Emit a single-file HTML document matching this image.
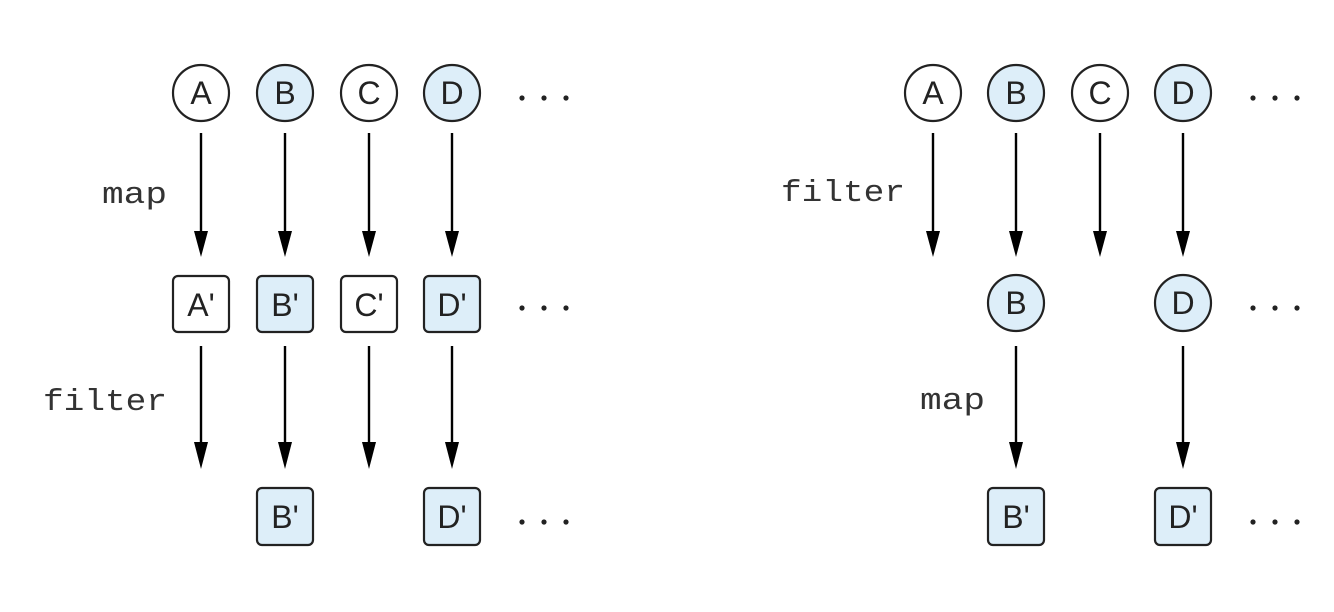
<!DOCTYPE html>
<html><head><meta charset="utf-8"><style>html,body{margin:0;padding:0;background:#fff}svg{display:block}</style></head>
<body>
<svg width="1334" height="612" viewBox="0 0 1334 612" xmlns="http://www.w3.org/2000/svg">
<defs>
<g id="dots"><circle cx="0" cy="0" r="2.6" fill="#222"/><circle cx="22" cy="0" r="2.6" fill="#222"/><circle cx="44" cy="0" r="2.6" fill="#222"/></g>
</defs>
<g stroke="#222" stroke-width="2.2" fill="#222">
<circle cx="201" cy="93" r="28" fill="#fff"/>
<circle cx="285" cy="93" r="28" fill="#ddeef9"/>
<circle cx="369" cy="93" r="28" fill="#fff"/>
<circle cx="452" cy="93" r="28" fill="#ddeef9"/>
<rect x="173" y="276" width="56" height="56" rx="5" fill="#fff"/>
<rect x="257" y="276" width="56" height="56" rx="5" fill="#ddeef9"/>
<rect x="341" y="276" width="56" height="56" rx="5" fill="#fff"/>
<rect x="424" y="276" width="56" height="56" rx="5" fill="#ddeef9"/>
<rect x="257" y="488" width="56" height="57" rx="5" fill="#ddeef9"/>
<rect x="424" y="488" width="56" height="57" rx="5" fill="#ddeef9"/>
<circle cx="933" cy="93" r="28" fill="#fff"/>
<circle cx="1016" cy="93" r="28" fill="#ddeef9"/>
<circle cx="1100" cy="93" r="28" fill="#fff"/>
<circle cx="1183" cy="93" r="28" fill="#ddeef9"/>
<circle cx="1016" cy="303" r="28" fill="#ddeef9"/>
<circle cx="1183" cy="303" r="28" fill="#ddeef9"/>
<rect x="988" y="488" width="56" height="57" rx="5" fill="#ddeef9"/>
<rect x="1155" y="488" width="56" height="57" rx="5" fill="#ddeef9"/>
</g>
<g font-family="Liberation Sans, sans-serif" font-size="32" text-anchor="middle" fill="#222">
<text x="201" y="104">A</text><text x="285" y="104">B</text><text x="369" y="104">C</text><text x="452" y="104">D</text>
<text x="201" y="316">A'</text><text x="285" y="316">B'</text><text x="369" y="316">C'</text><text x="452" y="316">D'</text>
<text x="285" y="528">B'</text><text x="452" y="528">D'</text>
<text x="933" y="104">A</text><text x="1016" y="104">B</text><text x="1100" y="104">C</text><text x="1183" y="104">D</text>
<text x="1016" y="314">B</text><text x="1183" y="314">D</text>
<text x="1016" y="528">B'</text><text x="1183" y="528">D'</text>
</g>
<g stroke="#000" stroke-width="2.4">
<line x1="201" y1="133" x2="201" y2="235"/><line x1="285" y1="133" x2="285" y2="235"/><line x1="369" y1="133" x2="369" y2="235"/><line x1="452" y1="133" x2="452" y2="235"/>
<line x1="201" y1="346" x2="201" y2="445"/><line x1="285" y1="346" x2="285" y2="445"/><line x1="369" y1="346" x2="369" y2="445"/><line x1="452" y1="346" x2="452" y2="445"/>
<line x1="933" y1="133" x2="933" y2="235"/><line x1="1016" y1="133" x2="1016" y2="235"/><line x1="1100" y1="133" x2="1100" y2="235"/><line x1="1183" y1="133" x2="1183" y2="235"/>
<line x1="1016" y1="346" x2="1016" y2="445"/><line x1="1183" y1="346" x2="1183" y2="445"/>
</g>
<g fill="#000">
<path d="M194 231 L208 231 L201 257Z"/><path d="M278 231 L292 231 L285 257Z"/><path d="M362 231 L376 231 L369 257Z"/><path d="M445 231 L459 231 L452 257Z"/>
<path d="M194 442 L208 442 L201 469Z"/><path d="M278 442 L292 442 L285 469Z"/><path d="M362 442 L376 442 L369 469Z"/><path d="M445 442 L459 442 L452 469Z"/>
<path d="M926 231 L940 231 L933 257Z"/><path d="M1009 231 L1023 231 L1016 257Z"/><path d="M1093 231 L1107 231 L1100 257Z"/><path d="M1176 231 L1190 231 L1183 257Z"/>
<path d="M1009 442 L1023 442 L1016 469Z"/><path d="M1176 442 L1190 442 L1183 469Z"/>
</g>
<use href="#dots" x="522" y="98"/><use href="#dots" x="522" y="308"/><use href="#dots" x="522" y="522"/>
<use href="#dots" x="1253" y="98"/><use href="#dots" x="1253" y="308"/><use href="#dots" x="1253" y="522"/>
<g font-family="Liberation Mono, monospace" font-size="31" fill="#333">
<text x="102" y="203" textLength="65" lengthAdjust="spacingAndGlyphs">map</text>
<text x="43" y="410" textLength="124" lengthAdjust="spacingAndGlyphs">filter</text>
<text x="781" y="201" textLength="124" lengthAdjust="spacingAndGlyphs">filter</text>
<text x="920" y="409" textLength="65" lengthAdjust="spacingAndGlyphs">map</text>
</g>
</svg>
</body></html>
